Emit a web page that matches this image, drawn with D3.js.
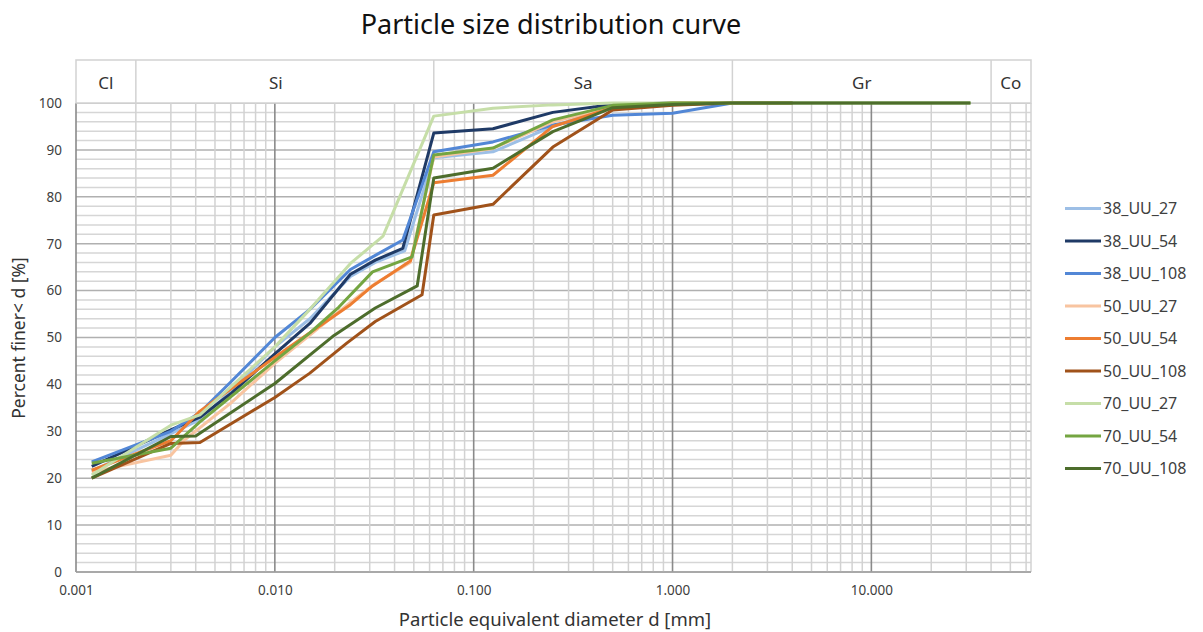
<!DOCTYPE html>
<html>
<head>
<meta charset="utf-8">
<script src="https://cdn.jsdelivr.net/npm/d3@7"></script>
<style>
body { margin: 0; background: #fff; }
text { font-family: "Noto Sans", sans-serif; }
</style>
</head>
<body>
<svg width="1203" height="632"></svg>
<script>
// series
const seriesNames = ['38_UU_27', '38_UU_54', '38_UU_108', '50_UU_27', '50_UU_54', '50_UU_108', '70_UU_27', '70_UU_54', '70_UU_108'];
const seriesColors = ['#9dbfe6', '#1f3a66', '#5287d6', '#f8c4a0', '#ed7d31', '#a0521a', '#c6dea8', '#74a541', '#4d6d2c'];

// hydrometer part (diameter mm / percent finer)
const hydroDiameters = [
    [0.0012, 0.003, 0.0042, 0.006, 0.01, 0.015, 0.024, 0.032, 0.045],
    [0.0012, 0.003, 0.0042, 0.006, 0.01, 0.015, 0.024, 0.032, 0.044],
    [0.0012, 0.003, 0.0042, 0.006, 0.01, 0.015, 0.024, 0.032, 0.044],
    [0.0012, 0.003, 0.0035, 0.006, 0.01, 0.015, 0.024, 0.032, 0.048],
    [0.0012, 0.003, 0.0042, 0.006, 0.01, 0.015, 0.024, 0.031, 0.048],
    [0.0012, 0.003, 0.0042, 0.01, 0.015, 0.023, 0.032, 0.055],
    [0.0012, 0.003, 0.0042, 0.01, 0.015, 0.024, 0.035],
    [0.0012, 0.003, 0.0042, 0.01, 0.015, 0.021, 0.031, 0.049],
    [0.0012, 0.003, 0.004, 0.01, 0.0195, 0.032, 0.052]
];
const hydroPercents = [
    [21.5, 29.5, 32.5, 38.5, 48, 54, 63, 66, 68.5],
    [22.5, 30.3, 33, 38, 46.5, 53, 63.5, 66.5, 69],
    [23.5, 30, 34, 40.5, 50, 56, 64.5, 67.5, 70.8],
    [21.3, 24.9, 28.1, 36, 44.5, 50.5, 57.5, 61.5, 66],
    [21.7, 28, 34.3, 39, 45.8, 51, 57, 61, 66.3],
    [20, 27.4, 27.6, 37.2, 42.4, 48.8, 53.4, 59.1],
    [20.7, 31.3, 33.5, 48, 56, 65.8, 71.6],
    [23.2, 26.4, 32, 45, 51, 56.5, 64, 67.2],
    [20, 28.9, 29, 40.2, 50.2, 56.3, 61]
];

// sieve part
const sieveSizes = [0.063, 0.125, 0.25, 0.5, 1, 2, 4, 8, 16, 31.5];
const sievePercents = [
    [88.3, 89.6, 95, 99.3, 99.8, 100, 100],
    [93.6, 94.5, 98, 99.7, 100, 100, 100],
    [89.6, 91.7, 95.3, 97.4, 97.8, 100, 100],
    [88.5, 90.3, 96, 99.2, 100, 100, 100],
    [83, 84.6, 95, 99, 100, 100, 100],
    [76.1, 78.4, 90.6, 98.5, 99.5, 100, 100],
    [97.2, 98.9, 99.6, 100, 100, 100, 100],
    [88.9, 90.4, 96.4, 99.5, 100, 100, 100, 100, 100, 100],
    [84, 86.1, 93.9, 99, 99.7, 100, 100, 100, 100, 100]
];

// soil classes on top
const bandNames = ['Cl', 'Si', 'Sa', 'Gr', 'Co'];
const bandLimits = [0.001, 0.002, 0.063, 2, 40, 63];

const xTickValues = [0.001, 0.01, 0.1, 1, 10];
const yTickValues = [0, 10, 20, 30, 40, 50, 60, 70, 80, 90, 100];

const svg = d3.select('svg');
const plotLeft = 76, plotRight = 1031, plotTop = 103, plotBottom = 572;

const x = d3.scaleLog().domain([0.001, 63.5]).range([plotLeft, plotRight]);
const y = d3.scaleLinear().domain([0, 100]).range([plotBottom, plotTop]);

// title
svg.append('text')
    .attr('x', 551).attr('y', 34)
    .attr('text-anchor', 'middle')
    .attr('font-size', 27)
    .attr('fill', '#111')
    .text('Particle size distribution curve');

// grid
const grid = svg.append('g');
d3.range(0, 101, 2).forEach(v => {
    grid.append('line')
        .attr('x1', plotLeft).attr('x2', plotRight)
        .attr('y1', y(v)).attr('y2', y(v))
        .attr('stroke', v % 10 === 0 ? '#b0b0b0' : '#d6d6d6')
        .attr('stroke-width', 1.5);
});
x.ticks().filter(t => t < 63).forEach(t => {
    let major = xTickValues.some(m => Math.abs(m - t) / m < 1e-6);
    grid.append('line')
        .attr('x1', x(t)).attr('x2', x(t))
        .attr('y1', plotTop).attr('y2', plotBottom)
        .attr('stroke', major ? '#8a8a8a' : '#d2d2d2')
        .attr('stroke-width', major ? 1.6 : 1.5);
});
// right edge
grid.append('line')
    .attr('x1', plotRight).attr('x2', plotRight).attr('y1', plotTop).attr('y2', plotBottom)
    .attr('stroke', '#d2d2d2').attr('stroke-width', 1.5);
// x axis line
grid.append('line')
    .attr('x1', plotLeft).attr('x2', plotRight).attr('y1', plotBottom).attr('y2', plotBottom)
    .attr('stroke', '#a0a0a0').attr('stroke-width', 1.5);

// class band
const band = svg.append('g');
band.append('rect')
    .attr('x', plotLeft).attr('y', 60)
    .attr('width', plotRight - plotLeft).attr('height', plotTop - 60)
    .attr('fill', '#fff').attr('stroke', '#d2d2d2').attr('stroke-width', 1.5);
bandLimits.slice(1, -1).forEach(b => {
    band.append('line')
        .attr('x1', x(b)).attr('x2', x(b)).attr('y1', 60).attr('y2', plotTop)
        .attr('stroke', '#d2d2d2').attr('stroke-width', 1.5);
});
bandNames.forEach((n, i) => {
    band.append('text')
        .attr('x', (x(bandLimits[i]) + x(bandLimits[i + 1])) / 2 + (n === 'Si' ? -9 : 0))
        .attr('y', 89)
        .attr('text-anchor', 'middle')
        .attr('font-size', 17)
        .attr('fill', '#333')
        .text(n);
});

// axes
const xAxis = svg.append('g')
    .attr('transform', `translate(0,${plotBottom})`)
    .call(d3.axisBottom(x).tickValues(xTickValues).tickFormat(d3.format('.3f')).tickSize(0).tickPadding(13));
const yAxis = svg.append('g')
    .attr('transform', `translate(${plotLeft},0)`)
    .call(d3.axisLeft(y).tickValues(yTickValues).tickSize(0).tickPadding(14));
[xAxis, yAxis].forEach(a => {
    a.select('.domain').remove();
    a.selectAll('text').attr('font-size', 13.5).attr('fill', '#404040').attr('font-family', '"Noto Sans", sans-serif');
});

svg.append('text')
    .attr('x', 555).attr('y', 626)
    .attr('text-anchor', 'middle')
    .attr('font-size', 18.5)
    .attr('fill', '#333')
    .text('Particle equivalent diameter d [mm]');
svg.append('text')
    .attr('transform', 'translate(25,338) rotate(-90)')
    .attr('text-anchor', 'middle')
    .attr('font-size', 17.5)
    .attr('fill', '#333')
    .text('Percent finer< d [%]');

// curves
const line = d3.line()
    .x(d => x(d[0]))
    .y(d => y(d[1]));

const curves = seriesNames.map((name, i) => {
    let pts = hydroDiameters[i].map((d, j) => [d, hydroPercents[i][j]]);
    sievePercents[i].forEach((p, j) => pts.push([sieveSizes[j], p]));
    return pts;
});

svg.append('g')
    .selectAll('path')
    .data(curves)
    .join('path')
    .attr('d', line)
    .attr('fill', 'none')
    .attr('stroke', (d, i) => seriesColors[i])
    .attr('stroke-width', 3)
    .attr('stroke-linejoin', 'round');

// legend
const legend = svg.append('g')
    .selectAll('g')
    .data(seriesNames)
    .join('g')
    .attr('transform', (d, i) => `translate(1065,${208.5 + i * 32.5})`);
legend.append('line')
    .attr('x1', 0).attr('x2', 36)
    .attr('stroke', (d, i) => seriesColors[i])
    .attr('stroke-width', 3);
legend.append('text')
    .attr('x', 38).attr('y', 5.5)
    .attr('font-size', 16)
    .attr('fill', '#404040')
    .text(d => d);
</script>
</body>
</html>
